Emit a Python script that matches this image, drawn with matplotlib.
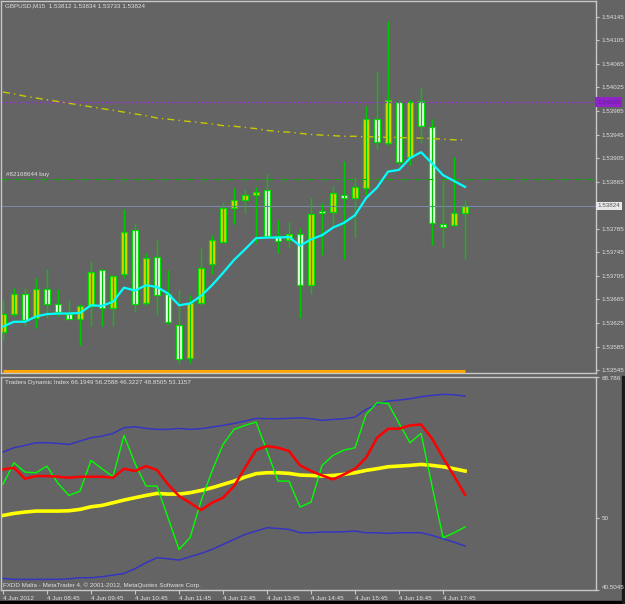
import numpy as np
import matplotlib.pyplot as plt

# GBPUSD M15 candles, 4 Jun 2012 07:45 .. 18:15
opens = [1.53610, 1.53640, 1.53675, 1.53633, 1.53683, 1.53657, 1.53640, 1.53632, 1.53654, 1.53715,
         1.53650, 1.53708, 1.53783, 1.53659, 1.53737, 1.53674, 1.53621, 1.53565, 1.53659, 1.53725,
         1.53763, 1.53821, 1.53834, 1.53842, 1.53850, 1.53773, 1.53766, 1.53776, 1.53689, 1.53815,
         1.53813, 1.53842, 1.53837, 1.53855, 1.53972, 1.53931, 1.54001, 1.53907, 1.54002, 1.53958,
         1.53793, 1.53792, 1.53812]
highs = [1.53664, 1.53685, 1.53685, 1.53701, 1.53716, 1.53683, 1.53664, 1.53657, 1.53731, 1.53716,
         1.53705, 1.53818, 1.53794, 1.53743, 1.53766, 1.53715, 1.53681, 1.53672, 1.53752, 1.53774,
         1.53831, 1.53854, 1.53852, 1.53856, 1.53878, 1.53800, 1.53797, 1.53786, 1.53837, 1.53828,
         1.53858, 1.53900, 1.53873, 1.53993, 1.54052, 1.54137, 1.54003, 1.54004, 1.54025, 1.53971,
         1.53868, 1.53907, 1.53834]
lows = [1.53596, 1.53636, 1.53619, 1.53616, 1.53633, 1.53636, 1.53630, 1.53588, 1.53619, 1.53619,
        1.53619, 1.53701, 1.53644, 1.53655, 1.53638, 1.53624, 1.53556, 1.53557, 1.53655, 1.53708,
        1.53760, 1.53793, 1.53811, 1.53760, 1.53769, 1.53743, 1.53752, 1.53633, 1.53675, 1.53740,
        1.53788, 1.53733, 1.53771, 1.53842, 1.53920, 1.53927, 1.53893, 1.53893, 1.53930, 1.53757,
        1.53752, 1.53790, 1.53733]
closes = [1.53641, 1.53674, 1.53630, 1.53683, 1.53658, 1.53644, 1.53632, 1.53654, 1.53712, 1.53650,
          1.53705, 1.53780, 1.53658, 1.53736, 1.53672, 1.53626, 1.53563, 1.53659, 1.53718, 1.53766,
          1.53821, 1.53834, 1.53842, 1.53847, 1.53773, 1.53764, 1.53776, 1.53689, 1.53810, 1.53811,
          1.53846, 1.53837, 1.53856, 1.53971, 1.53932, 1.54004, 1.53899, 1.54000, 1.53960, 1.53795,
          1.53788, 1.53811, 1.53824]

ma_fast = [1.53619, 1.53627, 1.53627, 1.53636, 1.53640, 1.53641, 1.53641, 1.53642, 1.53655, 1.53654,
           1.53661, 1.53685, 1.53680, 1.53689, 1.53686, 1.53675, 1.53655, 1.53658, 1.53671, 1.53689,
           1.53710, 1.53732, 1.53750, 1.53769, 1.53770, 1.53770, 1.53771, 1.53756, 1.53767, 1.53774,
           1.53787, 1.53795, 1.53808, 1.53837, 1.53855, 1.53882, 1.53885, 1.53905, 1.53915, 1.53896,
           1.53876, 1.53866, 1.53856]
ma_slow = [1.54017, 1.54014, 1.54010, 1.54007, 1.54004, 1.54001, 1.53998, 1.53995, 1.53992, 1.53989,
           1.53986, 1.53983, 1.53980, 1.53977, 1.53973, 1.53971, 1.53969, 1.53967, 1.53965, 1.53963,
           1.53960, 1.53959, 1.53957, 1.53955, 1.53952, 1.53950, 1.53949, 1.53947, 1.53945, 1.53944,
           1.53943, 1.53942, 1.53942, 1.53941, 1.53941, 1.53940, 1.53940, 1.53939, 1.53939, 1.53938,
           1.53937, 1.53936, 1.53936]

orange_level = 1.53543
purple_level = 1.54000
order_price = 1.53870
order_label = '#82168644 buy'
bid = 1.53824

price_ticks = [1.54145, 1.54105, 1.54065, 1.54025, 1.53985, 1.53945, 1.53905, 1.53865,
               1.53785, 1.53745, 1.53705, 1.53665, 1.53625, 1.53585, 1.53545]

time_pos = [0, 4, 8, 12, 16, 20, 24, 28, 32, 36, 40]
time_labels = ['4 Jun 2012', '4 Jun 08:45', '4 Jun 09:45', '4 Jun 10:45', '4 Jun 11:45',
               '4 Jun 12:45', '4 Jun 13:45', '4 Jun 14:45', '4 Jun 15:45', '4 Jun 16:45',
               '4 Jun 17:45']

# Traders Dynamic Index
tdi_upper = [58.78, 59.35, 59.66, 60.01, 60.01, 59.92, 59.79, 60.23, 60.67, 60.89,
             61.25, 62.00, 62.13, 61.91, 61.78, 61.78, 61.91, 61.78, 61.87, 62.09,
             62.31, 62.57, 62.88, 63.24, 63.19, 63.19, 63.24, 63.32, 63.19, 62.97,
             63.10, 63.19, 63.41, 64.43, 65.09, 65.53, 65.66, 65.84, 66.11, 66.28,
             66.42, 66.37, 66.19]
tdi_lower = [42.04, 41.91, 41.91, 41.91, 41.91, 41.91, 41.99, 42.13, 42.13, 42.26,
             42.48, 42.70, 43.32, 44.11, 44.78, 44.64, 44.47, 44.91, 45.35, 45.88,
             46.54, 47.20, 47.87, 48.31, 48.75, 48.66, 48.53, 48.09, 48.09, 48.18,
             48.18, 48.22, 48.31, 48.09, 48.09, 48.00, 48.09, 48.09, 48.09, 47.73,
             47.29, 46.85, 46.32]
tdi_base = [50.38, 50.65, 50.83, 50.96, 50.96, 50.96, 51.00, 51.18, 51.53, 51.71,
            52.06, 52.42, 52.73, 53.03, 53.30, 53.21, 53.21, 53.39, 53.69, 54.05,
            54.49, 54.93, 55.46, 55.91, 56.04, 56.04, 55.95, 55.73, 55.68, 55.60,
            55.68, 55.82, 56.04, 56.35, 56.57, 56.83, 56.92, 57.01, 57.14, 57.01,
            56.83, 56.57, 56.26]
tdi_rsi = [54.49, 57.36, 56.13, 56.04, 56.92, 54.62, 53.03, 53.61, 57.67, 56.57,
           55.51, 60.98, 57.27, 54.27, 54.27, 50.08, 45.88, 47.43, 52.28, 56.26,
           59.79, 61.78, 62.31, 62.75, 58.91, 54.93, 54.93, 51.49, 52.15, 57.01,
           58.33, 59.04, 59.35, 63.76, 65.31, 65.22, 62.57, 60.01, 61.25, 54.27,
           47.43, 48.09, 48.85]
tdi_signal = [56.48, 56.70, 55.24, 55.60, 55.60, 55.51, 55.38, 55.51, 55.51, 55.51,
              55.38, 56.57, 56.26, 56.92, 56.39, 54.49, 52.95, 52.06, 51.09, 52.06,
              52.73, 54.27, 56.70, 59.04, 59.57, 59.35, 58.91, 57.01, 56.26, 55.68,
              55.15, 55.82, 56.57, 58.03, 60.67, 61.87, 61.87, 62.31, 62.44, 60.54,
              58.03, 55.60, 53.12]
tdi_last = [66.1949, 56.2588, 46.3227, 48.8505, 53.1157]
tdi_ticks = [68.786, 50, 40.5045]
tdi_tick_labels = ['68.786', '50', '40.5045']

BG = '#646464'
TXT = '#e0e0e0'
FRAME = '#c8c8c8'
plt.rcParams['font.family'] = ['Liberation Sans', 'DejaVu Sans']
FS = 4.5

W, H = 625, 604
fig = plt.figure(figsize=(W / 100, H / 100), dpi=100, facecolor=BG)

def frac(x0, y0, x1, y1):
    return [x0 / W, 1 - y1 / H, (x1 - x0) / W, (y1 - y0) / H]

ax = fig.add_axes(frac(1, 1, 596, 373))
ax2 = fig.add_axes(frac(1, 376.5, 596, 590))

idx = np.arange(len(opens))
o = np.array(opens)
c = np.array(closes)
xlim = (-0.18, 53.9)

for a in (ax, ax2):
    a.set_facecolor(BG)
    a.set_xlim(*xlim)
    for s in a.spines.values():
        s.set_color(FRAME)
        s.set_linewidth(1)

# main price panel
ax.set_ylim(1.535400, 1.541717)
ax.axhline(purple_level, color='#9932cc', lw=1, ls=(0, (1.5, 1.5)))
ax.axhline(order_price, color='#00b400', lw=0.8, ls=(0, (5, 3, 1, 3)))
ax.axhline(bid, color='#7a88a8', lw=0.8)
ax.plot(idx, ma_slow, color='#c8c800', lw=1, ls=(0, (5, 3, 1, 3)))
ax.plot(idx, [orange_level] * len(idx), color='#ffa500', lw=2.2, solid_capstyle='butt')

ax.vlines(idx, lows, highs, color='#00c800', lw=1)
up = c >= o
body_bottom = np.minimum(o, c)
body_h = np.maximum(np.abs(c - o), 0.000025)
ax.bar(idx, body_h, bottom=body_bottom, width=0.62,
       color=np.where(up, '#f2d000', '#ffffff'), edgecolor='#00e000', linewidth=0.9)
ax.plot(idx, ma_fast, color='#00ffff', lw=1.6)

ax.text(0.006, 0.993, 'GBPUSD,M15  %.5f %.5f %.5f %.5f' % (opens[-1], highs[-1], lows[-1], closes[-1]),
        transform=ax.transAxes, color=TXT, fontsize=FS, ha='left', va='top')
ax.annotate(order_label, xy=(0.008, order_price), xycoords=('axes fraction', 'data'),
            xytext=(0, 1.5), textcoords='offset points', color=TXT, fontsize=FS,
            ha='left', va='bottom')

ax.set_xticks([])
ax.set_yticks(price_ticks)
ax.set_yticklabels(['%.5f' % p for p in price_ticks])
ax.tick_params(axis='y', left=False, labelleft=False, right=True, labelright=True,
               length=2, width=0.8, color=FRAME, labelcolor=TXT, labelsize=FS, pad=2)

ax.annotate('%.5f' % bid, xy=(1.002, bid), xycoords=('axes fraction', 'data'),
            color='#555555', fontsize=FS, ha='left', va='center',
            bbox=dict(boxstyle='square,pad=0.25', fc='#e8e8e8', ec='none'))
ax.annotate('%.5f' % purple_level, xy=(1.002, purple_level), xycoords=('axes fraction', 'data'),
            color='#6a1a9a', fontsize=FS, ha='left', va='center',
            bbox=dict(boxstyle='square,pad=0.35', fc='#8e24c8', ec='none'))

# indicator panel
ax2.set_ylim(40.5045, 68.786)
ax2.plot(idx, tdi_upper, color='#3535c0', lw=1.1)
ax2.plot(idx, tdi_lower, color='#3535c0', lw=1.1)
ax2.plot(idx, tdi_base, color='#ffff00', lw=2.6)
ax2.plot(idx, tdi_rsi, color='#00ff00', lw=1.0)
ax2.plot(idx, tdi_signal, color='#ff0000', lw=1.8)

ax2.text(0.006, 0.985, 'Traders Dynamic Index ' + ' '.join('%.4f' % v for v in tdi_last),
         transform=ax2.transAxes, color=TXT, fontsize=FS, ha='left', va='top')
ax2.text(0.004, 0.01, 'FXDD Malta - MetaTrader 4, \u00a9 2001-2012, MetaQuotes Software Corp.',
         transform=ax2.transAxes, color=TXT, fontsize=FS, ha='left', va='bottom')

ax2.set_yticks(tdi_ticks)
ax2.set_yticklabels(tdi_tick_labels)
ax2.tick_params(axis='y', left=False, labelleft=False, right=True, labelright=True,
                length=2, width=0.8, color=FRAME, labelcolor=TXT, labelsize=FS, pad=2)
yl = ax2.get_yticklabels()
yl[0].set_va('top')
yl[-1].set_va('bottom')

ax2.set_xticks(time_pos)
ax2.set_xticklabels(time_labels)
ax2.tick_params(axis='x', length=3, width=0.8, color=FRAME, labelcolor=TXT,
                labelsize=FS, pad=1)
for t in ax2.get_xticklabels():
    t.set_ha('left')

# window edges
fig.patches.append(plt.Rectangle((0, 0), 1, 3.5 / H, transform=fig.transFigure,
                                 color='#000000', zorder=-1))
fig.patches.append(plt.Rectangle((622 / W, 0), 3 / W, 1 - 376 / H, transform=fig.transFigure,
                                 color='#1a1a1a', zorder=-1))

fig.savefig('out.png', dpi=100, facecolor=BG)
